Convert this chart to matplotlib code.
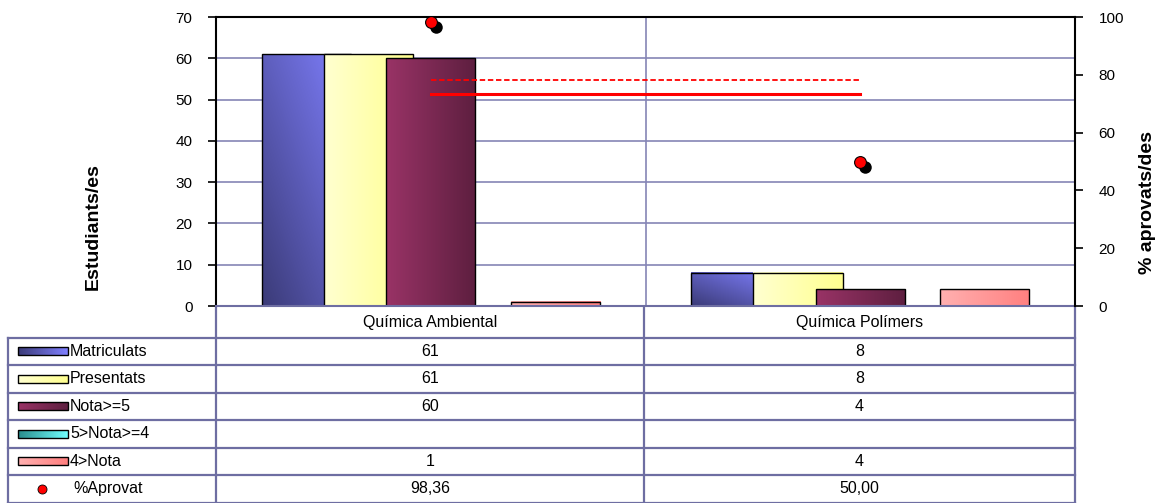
import numpy as np
import matplotlib
matplotlib.use("Agg")
import matplotlib.pyplot as plt
import matplotlib.transforms as mtransforms
from matplotlib.patches import Rectangle
from matplotlib.colors import LinearSegmentedColormap

plt.rcParams['font.family'] = ['Liberation Sans', 'DejaVu Sans']

# dades
categories = ['Química Ambiental', 'Química Polímers']
series_names = ['Matriculats', 'Presentats', 'Nota>=5', '5>Nota>=4', '4>Nota']
matriculats = [61, 8]
presentats = [61, 8]
nota_aprovat = [60, 4]
nota_4_5 = [None, None]
nota_suspes = [1, 4]
pct_aprovat = [98.36, 50.00]
pct_ref_centre = [78.2, 78.2]
pct_ref_mitjana = [73.4, 73.4]

series_values = [matriculats, presentats, nota_aprovat, nota_4_5, nota_suspes]
# colors (fosc, clar) de cada serie i si el degradat va en diagonal
grad_colors = [('#3b3b78', '#8080ff', True),
               ('#ffffd0', '#ffff90', False),
               ('#993366', '#5e1f40', False),
               ('#2a8c8c', '#70ffff', False),
               ('#ffb0b0', '#ff8080', False)]

W, H = 1163, 503
fig = plt.figure(figsize=(W / 100, H / 100), dpi=100)


def box(x0, y0, x1, y1):
    return [x0 / W, 1 - y1 / H, (x1 - x0) / W, (y1 - y0) / H]


def gradient_rect(axis, x, y, w, h, c0, c1, diag, z):
    cmap = LinearSegmentedColormap.from_list('g', [c0, c1])
    u = np.linspace(0, 1, 64)
    if diag:
        grid = (u[None, :] + u[:, None]) / 2
    else:
        grid = np.tile(u, (64, 1))
    axis.imshow(grid, cmap=cmap, extent=(x, x + w, y, y + h), origin='lower',
                aspect='auto', interpolation='bilinear', zorder=z)
    axis.add_patch(Rectangle((x, y), w, h, facecolor='none', edgecolor='black',
                             lw=1, zorder=z + 0.01))


grid_col = '#8585b5'
table_col = '#6e6ea2'

ax = fig.add_axes(box(216, 17, 1075, 306))
ax2 = ax.twinx()

# barres
x = np.arange(len(categories))
step, width = 0.145, 0.208
for j, (vals, (c0, c1, diag)) in enumerate(zip(series_values, grad_colors)):
    for i, v in enumerate(vals):
        if v is None:
            continue
        xl = x[i] + (j - 2) * step - width / 2
        gradient_rect(ax, xl, 0, width, v, c0, c1, diag, 2 + j * 0.1)

ax.set_xlim(-0.5, 1.5)
ax.set_ylim(0, 70)
ax.set_yticks(range(0, 71, 10))
ax.set_xticks([])
ax.yaxis.grid(True, color=grid_col, lw=1.2)
ax.set_axisbelow(True)
ax.axvline(0.5, color=grid_col, lw=1.2, zorder=0.5)
for s in ['top', 'left']:
    ax.spines[s].set_color('black')
    ax.spines[s].set_linewidth(1.5)
ax.spines['bottom'].set_color(table_col)
ax.spines['bottom'].set_linewidth(1.5)
ax.spines['right'].set_visible(False)
ax.tick_params(axis='y', direction='out', length=6, width=1.2, pad=11, labelsize=11)

# % aprovats a l'eix dret
ax2.set_ylim(0, 100)
ax2.set_yticks(range(0, 101, 20))
ax2.spines['right'].set_color('black')
ax2.spines['right'].set_linewidth(1.5)
for s in ['top', 'left', 'bottom']:
    ax2.spines[s].set_visible(False)
ax2.tick_params(axis='y', direction='out', length=6, width=1.2, pad=11, labelsize=11)

ax2.plot(x, pct_ref_centre, color='red', lw=1.3, ls=(0, (3, 1.5)), zorder=5)
ax2.plot(x, pct_ref_mitjana, color='red', lw=2.2, zorder=5)
shadow = mtransforms.offset_copy(ax2.transData, fig=fig, x=5, y=-5, units='dots')
ax2.plot(x, pct_aprovat, 'o', color='black', ms=9, mew=0, transform=shadow, zorder=6)
ax2.plot(x, pct_aprovat, 'o', color='red', mec='black', mew=0.8, ms=8.5, zorder=7)

fig.text(93 / W, 1 - 227 / H, 'Estudiants/es', rotation=90, ha='center', va='center',
         fontsize=14, fontweight='bold')
fig.text(1147 / W, 1 - 203 / H, '% aprovats/des', rotation=90, ha='center', va='center',
         fontsize=14, fontweight='bold')

# taula de dades
tax = fig.add_axes([0, 0, 1, 1], zorder=-1)
tax.axis('off')

cols = [8, 216, 644, 1075]
rows = [337.5 + k * 27.5 for k in range(7)]
lk = dict(color=table_col, lw=1.6)
for y in rows:
    tax.plot([cols[0], cols[-1]], [y, y], **lk)
tax.plot([cols[0], cols[0]], [rows[0], rows[-1]], **lk)
for c in cols[1:]:
    tax.plot([c, c], [306, rows[-1]], **lk)

for i, cat in enumerate(categories):
    tax.text((cols[i + 1] + cols[i + 2]) / 2, 322, cat, ha='center', va='center', fontsize=11.5)

row_labels = series_names + ['%Aprovat']
row_values = series_values + [pct_aprovat]
for r, (lab, vals) in enumerate(zip(row_labels, row_values)):
    yc = (rows[r] + rows[r + 1]) / 2
    if r < len(series_names):
        c0, c1, _ = grad_colors[r]
        gradient_rect(tax, 18, yc - 4, 50, 8, c0, c1, False, 2)
        tax.text(70, yc, lab, ha='left', va='center', fontsize=11.5)
    else:
        tax.plot([42], [yc], 'o', color='red', mec='black', mew=0.6, ms=6.5)
        tax.text(73, yc, lab, ha='left', va='center', fontsize=11.5)
    for i, v in enumerate(vals):
        if v is None:
            continue
        txt = f'{v:.2f}'.replace('.', ',') if lab == '%Aprovat' else str(v)
        tax.text((cols[i + 1] + cols[i + 2]) / 2, yc, txt, ha='center', va='center', fontsize=11.5)
tax.set_xlim(0, W)
tax.set_ylim(H, 0)

fig.savefig('out.png', dpi=100)
